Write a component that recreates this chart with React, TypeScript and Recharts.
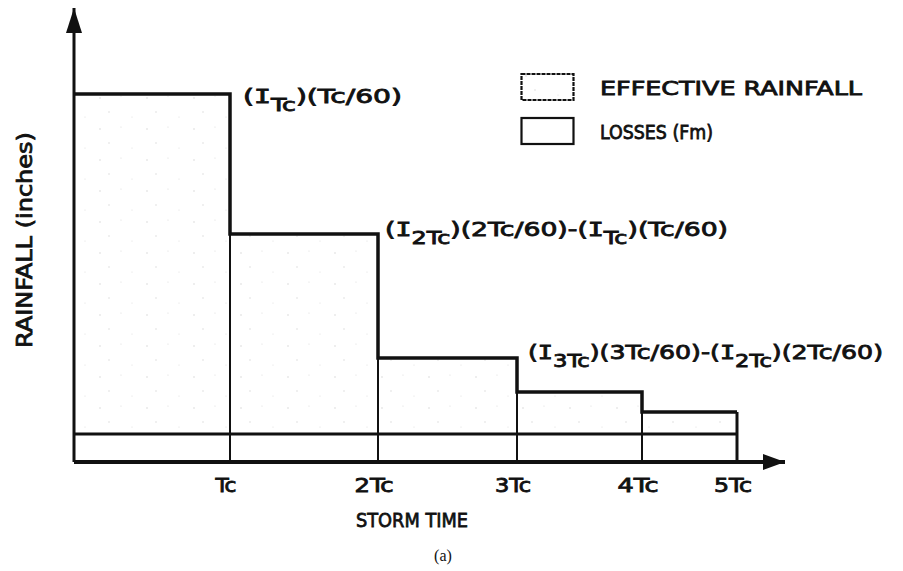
import React from "react";
import { Area, ComposedChart, Legend, ReferenceDot, ReferenceLine, XAxis, YAxis } from "recharts";

// Schematic values (arbitrary units, as drawn)
const EDGES = [0, 1.56, 3.04, 4.43, 5.68, 6.63];
const TICK_LABELS = ["Tc", "2Tc", "3Tc", "4Tc", "5Tc"];
const TOTAL = [3.68, 2.28, 1.04, 0.7, 0.5];
const LOSS = 0.28;
const X_MAX = 7.11;
const Y_MAX = 4.54;
const LEGEND_ITEMS = ["EFFECTIVE RAINFALL", "LOSSES (Fm)"];

type Piece = { t: string; sub?: boolean; serif?: boolean };
const FORMULAS: Piece[][] = [
  [{ t: "(" }, { t: "I", serif: true }, { t: "Tc", sub: true }, { t: ")(Tc/60)" }],
  [
    { t: "(" }, { t: "I", serif: true }, { t: "2Tc", sub: true }, { t: ")(2Tc/60)-(" },
    { t: "I", serif: true }, { t: "Tc", sub: true }, { t: ")(Tc/60)" },
  ],
  [
    { t: "(" }, { t: "I", serif: true }, { t: "3Tc", sub: true }, { t: ")(3Tc/60)-(" },
    { t: "I", serif: true }, { t: "2Tc", sub: true }, { t: ")(2Tc/60)" },
  ],
];

const FONT = "'DejaVu Sans', 'Liberation Sans', sans-serif";
const MONO = "'DejaVu Sans Mono', monospace";
const NARROW = "'DejaVu Sans Condensed', 'Liberation Sans Narrow', 'DejaVu Sans', sans-serif";
const INK = "#111";
const HEAVY = 0.8;

const FORMULA_W = [159, 343, 355];
const FORMULA_OFF = [
  { dx: 13, dy: 9 },
  { dx: 7, dy: 2 },
  { dx: 11, dy: 1 },
];
const TICK_W = [21, 39, 36, 41, 38];

const rows = EDGES.map((x, i) => ({
  x,
  loss: LOSS,
  eff: TOTAL[Math.min(i, TOTAL.length - 1)] - LOSS,
}));

function Formula({ cx, cy, idx }: { cx: number; cy: number; idx: number }) {
  const parts = FORMULAS[idx];
  let prevSub = false;
  return (
    <text
      x={cx + FORMULA_OFF[idx].dx}
      y={cy + FORMULA_OFF[idx].dy}
      fontFamily={FONT}
      fontSize={19}
      fill={INK}
      stroke={INK}
      strokeWidth={HEAVY}
      textLength={FORMULA_W[idx]}
      lengthAdjust="spacingAndGlyphs"
    >
      {parts.map((p, i) => {
        const dy = p.sub && !prevSub ? 8 : !p.sub && prevSub ? -8 : 0;
        prevSub = !!p.sub;
        return (
          <tspan key={i} dy={dy} fontSize={p.sub ? 17 : 19} fontFamily={p.serif ? MONO : undefined}>
            {p.t}
          </tspan>
        );
      })}
    </text>
  );
}

function TimeTick(props: any) {
  const { x, y, payload } = props;
  const i = EDGES.indexOf(payload.value) - 1;
  if (i < 0) return null;
  return (
    <text
      x={x - 4}
      y={y + 22}
      textAnchor="middle"
      fontFamily={NARROW}
      fontSize={20}
      fill={INK}
      stroke={INK}
      strokeWidth={HEAVY}
      textLength={TICK_W[i]}
      lengthAdjust="spacingAndGlyphs"
    >
      {TICK_LABELS[i]}
    </text>
  );
}

function LegendBox() {
  return (
    <svg width={370} height={80}>
      {LEGEND_ITEMS.map((name, i) => (
        <g key={name} transform={`translate(0, ${i * 44})`}>
          <rect
            x={1.5}
            y={3}
            width={52}
            height={26}
            fill={i === 0 ? "url(#stipple)" : "#fff"}
            stroke={INK}
            strokeWidth={2.2}
            strokeDasharray={i === 0 ? "4 1" : undefined}
          />
          <text
            x={80}
            y={24}
            fontFamily={FONT}
            fontSize={19}
            fill={INK}
            stroke={INK}
            strokeWidth={HEAVY}
            textLength={i === 0 ? 262 : 113}
            lengthAdjust="spacingAndGlyphs"
          >
            {name}
          </text>
        </g>
      ))}
    </svg>
  );
}

export default function App() {
  return (
    <div style={{ width: 903, height: 571, background: "#fff" }}>
      <style>{`body{margin:0}`}</style>
      <ComposedChart width={903} height={571} data={rows} margin={{ top: 8, right: 118, bottom: 0, left: 0 }}>
        <defs>
          <pattern id="stipple" width={47} height={31} patternUnits="userSpaceOnUse">
            <circle cx={6} cy={5} r={0.7} fill="#cfcfcf" />
            <circle cx={27} cy={3} r={0.6} fill="#dadada" />
            <circle cx={15} cy={19} r={0.7} fill="#d4d4d4" />
            <circle cx={38} cy={24} r={0.6} fill="#dcdcdc" />
          </pattern>
        </defs>
        <XAxis
          type="number"
          dataKey="x"
          domain={[0, X_MAX]}
          ticks={EDGES.slice(1)}
          tick={<TimeTick />}
          tickLine={false}
          axisLine={{ stroke: INK, strokeWidth: 4 }}
          height={109}
          label={{
            content: ({ viewBox }: any) => (
              <g>
                <text
                  x={412}
                  y={viewBox.y + 65}
                  textAnchor="middle"
                  fontFamily={FONT}
                  fontSize={20}
                  fill={INK}
                  stroke={INK}
                  strokeWidth={HEAVY}
                  textLength={112}
                  lengthAdjust="spacingAndGlyphs"
                >
                  STORM  TIME
                </text>
                <text x={443} y={viewBox.y + 99} textAnchor="middle" fontFamily="'Liberation Serif', serif" fontSize={16} fill={INK}>
                  (a)
                </text>
              </g>
            ),
          }}
        />
        <YAxis
          type="number"
          domain={[0, Y_MAX]}
          width={74}
          tick={false}
          tickLine={false}
          axisLine={{ stroke: INK, strokeWidth: 3 }}
          label={{
            content: ({ viewBox }: any) => {
              const cx = 32;
              const cy = viewBox.y + viewBox.height / 2 + 5;
              return (
                <text
                  x={cx}
                  y={cy}
                  transform={`rotate(-90, ${cx}, ${cy})`}
                  textAnchor="middle"
                  fontFamily={FONT}
                  fontSize={21}
                  fill={INK}
                  stroke={INK}
                  strokeWidth={HEAVY}
                  textLength={216}
                  lengthAdjust="spacingAndGlyphs"
                >
                  RAINFALL (inches)
                </text>
              );
            },
          }}
        />
        <Legend
          layout="horizontal"
          verticalAlign="middle"
          align="center"
          content={() => <LegendBox />}
          wrapperStyle={{ position: "absolute", left: 520, top: 71, width: 370, height: 80 }}
        />
        <Area
          type="stepAfter"
          dataKey="loss"
          stackId="r"
          stroke={INK}
          strokeWidth={3}
          fill="#fff"
          fillOpacity={1}
          isAnimationActive={false}
          dot={false}
          activeDot={false}
        />
        <Area
          type="stepAfter"
          dataKey="eff"
          stackId="r"
          stroke={INK}
          strokeWidth={3.5}
          fill="url(#stipple)"
          fillOpacity={1}
          isAnimationActive={false}
          dot={false}
          activeDot={false}
        />
        {EDGES.slice(1).map((e, i) => (
          <ReferenceLine
            key={e}
            segment={[
              { x: e, y: 0 },
              { x: e, y: TOTAL[Math.min(i + 1, TOTAL.length - 1)] },
            ]}
            stroke={INK}
            strokeWidth={i === EDGES.length - 2 ? 3 : 2}
          />
        ))}
        {FORMULAS.map((_, i) => (
          <ReferenceDot
            key={i}
            x={EDGES[i + 1]}
            y={TOTAL[i]}
            shape={(p: any) => <Formula cx={p.cx} cy={p.cy} idx={i} />}
          />
        ))}
        <ReferenceDot
          x={X_MAX}
          y={0}
          shape={(p: any) => (
            <path d={`M${p.cx},${p.cy} L${p.cx - 22},${p.cy - 8} L${p.cx - 22},${p.cy + 8} Z`} fill={INK} />
          )}
        />
        <ReferenceDot
          x={0}
          y={Y_MAX}
          shape={(p: any) => (
            <path d={`M${p.cx},${p.cy} L${p.cx - 8},${p.cy + 25} L${p.cx + 8},${p.cy + 25} Z`} fill={INK} />
          )}
        />
      </ComposedChart>
    </div>
  );
}
